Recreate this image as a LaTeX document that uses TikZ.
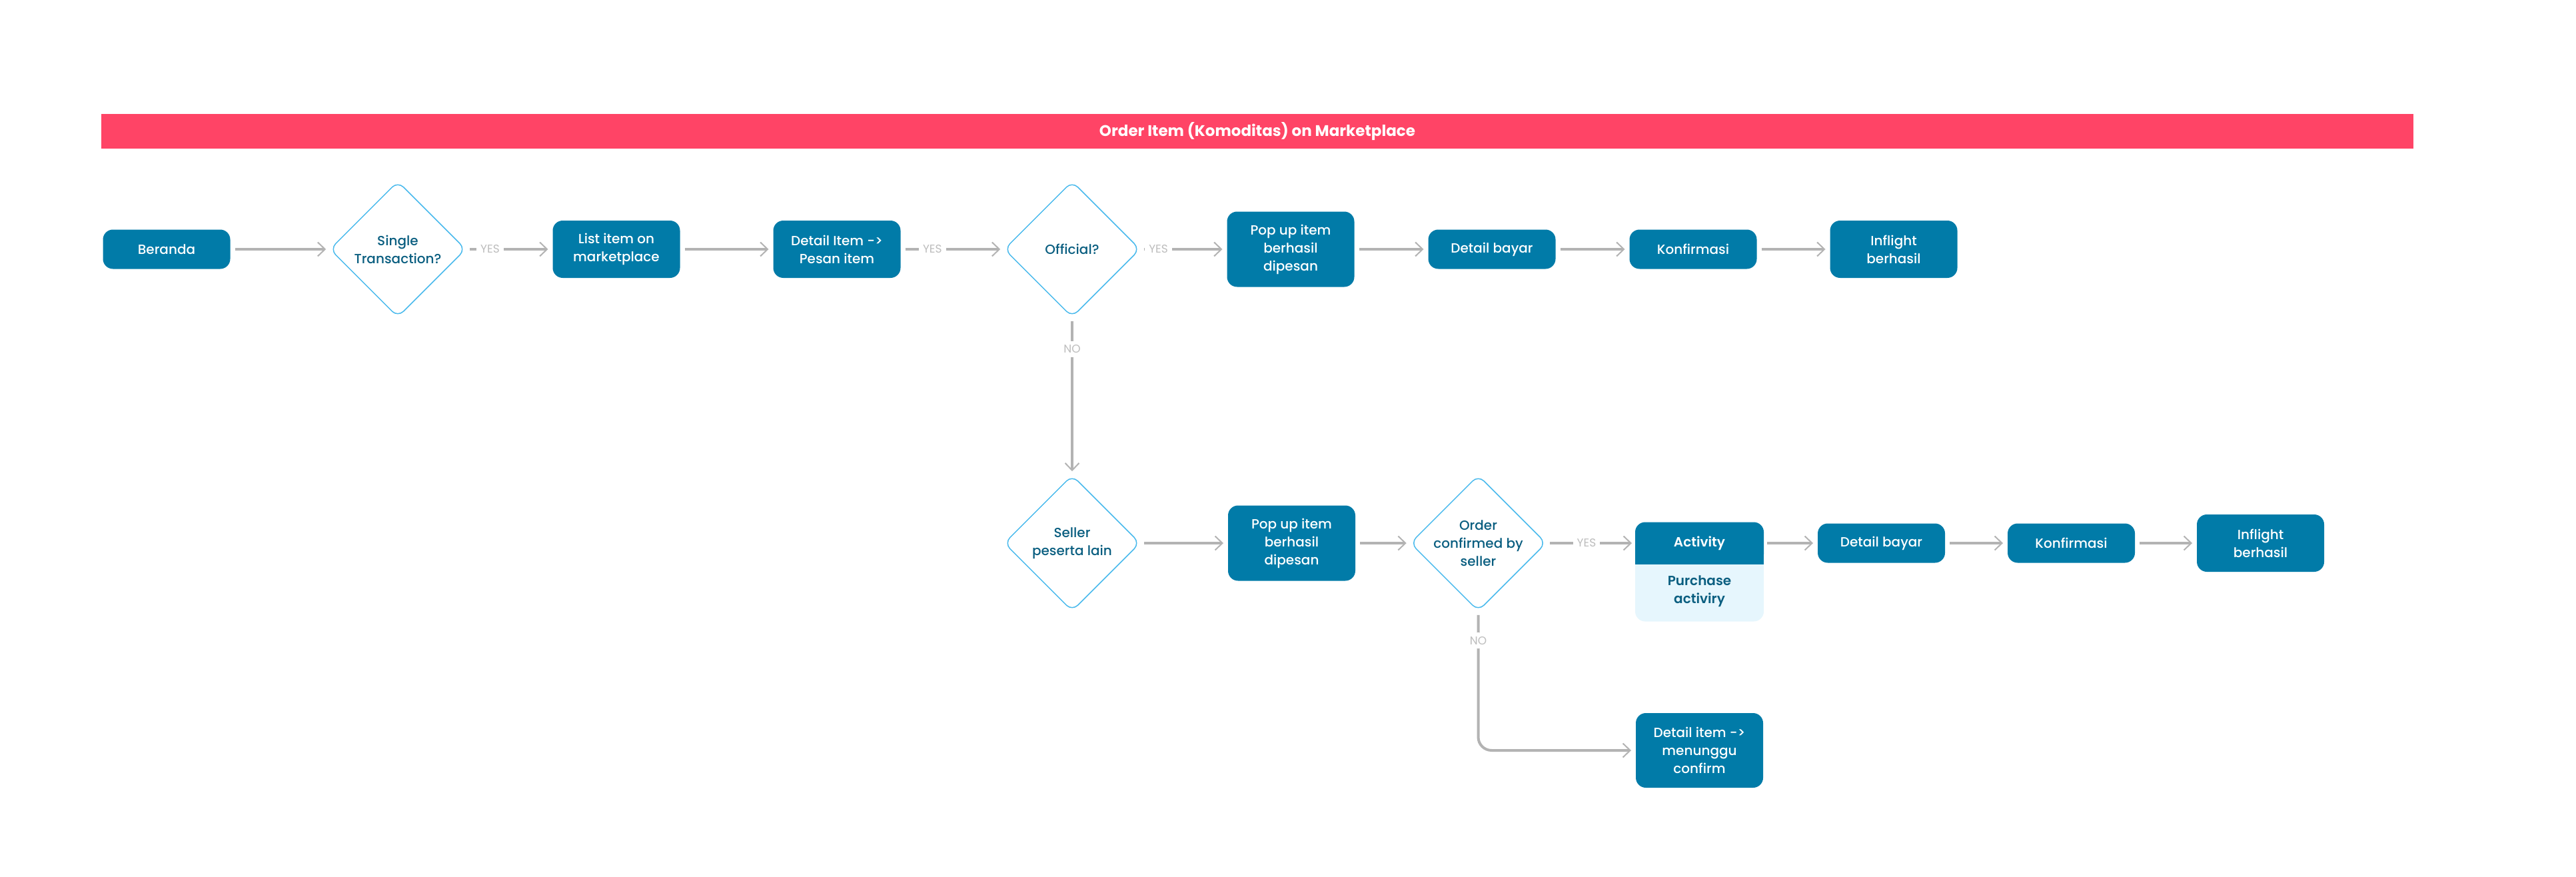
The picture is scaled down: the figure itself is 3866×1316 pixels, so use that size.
\documentclass[tikz,border=0pt]{standalone}
\usepackage{fontspec}
\setmainfont{Poppins}
\newfontfamily\popmed{Poppins Medium}
\newfontfamily\popsemi{Poppins SemiBold}
\usepackage{tikz}
\usetikzlibrary{arrows.meta, shapes.geometric, backgrounds}

\definecolor{boxblue}{RGB}{1,123,168}
\definecolor{bannerred}{RGB}{255,68,102}
\definecolor{askline}{RGB}{72,185,236}
\definecolor{asktext}{RGB}{10,94,128}
\definecolor{subfill}{RGB}{230,246,253}
\definecolor{flowgray}{RGB}{179,179,179}
\definecolor{labelgray}{RGB}{189,189,189}

\tikzset{
	box/.style={rectangle, rounded corners=15pt, fill=boxblue, text=white, minimum width=191pt, minimum height=59pt, inner sep=0pt, align=center, font=\popmed\fontsize{20}{27}\selectfont},
	tallbox/.style={box, minimum height=86pt},
	popbox/.style={box, minimum height=113pt},
	ask/.style={diamond, aspect=1, draw=askline, line width=1.5pt, rounded corners=12pt, minimum width=204pt, minimum height=204pt, inner sep=0pt, text=asktext, align=center, font=\popmed\fontsize{20}{27}\selectfont},
	answer/.style={fill=white, text=labelgray, inner sep=6pt, font=\fontsize{17}{17}\selectfont},
	banner/.style={rectangle, fill=bannerred, text=white, minimum width=3470pt, minimum height=52pt, font=\bfseries\fontsize{23}{23}\selectfont}
}

\begin{document}
\begin{tikzpicture}[->,>={Straight Barb[length=11pt,width=21pt,line width=2pt]},x=1pt,y=-1pt,node distance=330pt,line width=4pt,flowgray,every edge/.append style={shorten >=5pt,shorten <=5pt}]
	\useasboundingbox (0,0) rectangle (3866,1316);
	\node[banner] (title) at (1887,197) {Order Item (Komoditas) on Marketplace};
	\node[box] (beranda) at (250,374) {Beranda};
	\node[ask, right of=beranda, node distance=347pt] (single) {Single\\Transaction?};
	\node[tallbox, right of=single, node distance=328pt] (list) {List item on\\marketplace};
	\node[tallbox, right of=list, node distance=331pt] (detail) {Detail Item ->\\Pesan item};
	\node[ask, right of=detail, node distance=353pt] (official) {Official?};
	\node[popbox, right of=official, node distance=328pt] (popup) {Pop up item\\berhasil\\dipesan};
	\node[box, right of=popup, node distance=302pt] (bayar) {Detail bayar};
	\node[box, right of=bayar, node distance=302pt] (konfirm) {Konfirmasi};
	\node[tallbox, right of=konfirm, node distance=301pt] (inflight) {Inflight\\berhasil};
	\node[ask, below of=official, node distance=441pt] (seller) {Seller\\peserta lain};
	\node[popbox, right of=seller, node distance=329.5pt] (popupb) {Pop up item\\berhasil\\dipesan};
	\node[ask, right of=popupb, node distance=280pt] (order) {Order\\confirmed by\\seller};
	\node[box, fill=none, minimum width=189pt, font=\popsemi\fontsize{20}{27}\selectfont, right of=order, node distance=332pt] (act) {Activity};
	\node[tallbox, fill=none, text=asktext, minimum width=189pt, font=\popsemi\fontsize{20}{27}\selectfont, below of=act, node distance=72.5pt] (purch) {Purchase\\activiry};
	\node[box, right of=act, node distance=273pt] (bayarb) {Detail bayar};
	\node[box, right of=bayarb, node distance=285pt] (konfirmb) {Konfirmasi};
	\node[tallbox, right of=konfirmb, node distance=284pt] (inflightb) {Inflight\\berhasil};
	\node[popbox, minimum height=112pt, below of=purch, node distance=238.5pt] (wait) {Detail item ->\\menunggu\\confirm};
	\begin{scope}[on background layer, -]
		\fill[subfill, rounded corners=15pt] (act.north west) rectangle (purch.south east);
		\fill[boxblue, rounded corners=15pt] (act.north west) rectangle (act.south east);
		\fill[boxblue] ([yshift=20pt]act.south west) rectangle (act.south east);
	\end{scope}
	\draw (beranda) edge (single);
	\draw (single) edge node[answer, pos=0.28] {YES} (list);
	\draw (list) edge (detail);
	\draw (detail) edge node[answer, pos=0.3] {YES} (official);
	\draw (official) edge node[answer, pos=0.21] {YES} (popup);
	\draw (popup) edge (bayar);
	\draw (bayar) edge (konfirm);
	\draw (konfirm) edge (inflight);
	\draw (official) edge node[answer, pos=0.2] {NO} (seller);
	\draw (seller) edge (popupb);
	\draw (popupb) edge (order);
	\draw (order) edge node[answer, pos=0.45] {YES} (act);
	\draw (act) edge (bayarb);
	\draw (bayarb) edge (konfirmb);
	\draw (konfirmb) edge (inflightb);
	\draw[rounded corners=20pt, shorten >=5pt, shorten <=5pt] (order) |- node[answer, pos=0.104] {NO} (wait);
\end{tikzpicture}
\end{document}
